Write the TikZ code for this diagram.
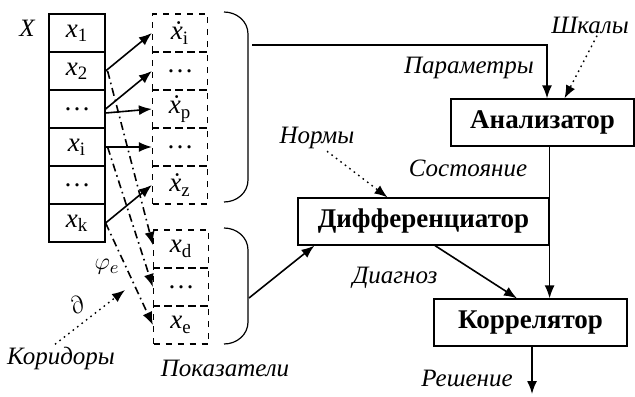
\documentclass[tikz,border=0pt]{standalone}
\usepackage{fontspec}
\setmainfont{Liberation Serif}
\usetikzlibrary{arrows.meta}
\newcommand{\xs}[1]{\textit{x}\textsubscript{#1}}
\newcommand{\xd}[1]{\textit{\.x}\textsubscript{#1}}

\begin{document}
\begin{tikzpicture}[x=0.5pt,y=-0.5pt,
    cell/.style={draw,semithick,minimum width=28pt,minimum height=19pt,inner sep=0pt,font=\fontsize{13.5}{15}\selectfont},
    dcell/.style={cell,dashed,minimum width=27.5pt},
    block/.style={draw,semithick,inner sep=0pt,minimum height=23.5pt,font=\fontsize{13.5}{16}\selectfont\bfseries},
    lbl/.style={inner sep=1pt,font=\fontsize{12.5}{15}\selectfont\itshape},
    arr/.style={-{Latex[length=6.5pt,width=5pt]},thick},
    chain/.style={arr,dash pattern=on 4pt off 2pt on 0.8pt off 2pt},
    hint/.style={arr,dotted,line width=0.7pt}]
  \useasboundingbox (0,0) rectangle (635,396);

  % source column X
  \node[lbl] (xl) at (27,28) {X};
  \node[cell] (x1) at (77,33) {\xs{1}};
  \node[cell] (x2) at (77,71) {\xs{2}};
  \node[cell] (x3) at (77,109) {\dots};
  \node[cell] (x4) at (77,147) {\xs{i}};
  \node[cell] (x5) at (77,185) {\dots};
  \node[cell] (x6) at (77,223) {\xs{k}};

  % parameters
  \node[dcell] (d1) at (180,33) {\xd{i}};
  \node[dcell] (d2) at (180,71) {\dots};
  \node[dcell] (d3) at (180,109) {\xd{p}};
  \node[dcell] (d4) at (180,147) {\dots};
  \node[dcell] (d5) at (180,185) {\xd{z}};

  % indicators
  \node[dcell] (e1) at (181,249) {\xs{d}};
  \node[dcell] (e2) at (181,287) {\dots};
  \node[dcell] (e3) at (181,325) {\xs{e}};

  \draw[arr] (x2.east) -- (d1.west);
  \draw[arr] (x3.east) -- (d2.west);
  \draw[arr] ([yshift=-2pt]x3.east) -- (d3.west);
  \draw[arr] (x4.east) -- (d4.west);
  \draw[arr] (x6.east) -- (d5.west);

  \draw[chain] ([xshift=1pt]x2.east) -- ([yshift=2pt]e1.west);
  \draw[chain] ([xshift=1pt]x4.east) -- (e2.west);
  \draw[chain] (x6.east) -- (e3.west);

  % brackets
  \draw[semithick] (224,12) to[out=0,in=90] (248,34) -- (248,180) to[out=-90,in=0] (224,202);
  \draw[semithick] (224,228) to[out=0,in=90] (248,250) -- (248,322) to[out=-90,in=0] (224,344);
  \coordinate (pout) at (252,45);
  \coordinate (iout) at (249,298);

  % blocks
  \node[block,minimum width=91.5pt] (an) at (542.5,122.5) {Анализатор};
  \node[block,minimum width=125.5pt] (df) at (423.5,221.5) {Дифференциатор};
  \node[block,minimum width=96.5pt] (co) at (530.5,322.5) {Коррелятор};

  \draw[arr] (pout) -| ([xshift=2.25pt]an.north);
  \draw[arr] (iout) -- ([xshift=8.5pt]df.south west);
  \draw[arr] (an.south -| df.east) -- (co.north -| df.east);
  \draw[arr] ([xshift=5.75pt]df.south) -- ([xshift=-6.75pt]co.north);
  \coordinate (rs) at (532,394);
  \draw[arr] (co.south -| rs) -- (rs);

  % labels
  \node[lbl] (par) at (469,68) {Параметры};
  \node[lbl] (shk) at (590,25) {Шкалы};
  \node[lbl] (nrm) at (317,138) {Нормы};
  \node[lbl] (sos) at (468,168) {Состояние};
  \node[lbl] (dia) at (395,278) {Диагноз};
  \node[lbl] (res) at (467,378) {Решение};
  \node[lbl] (kor) at (61,358) {Коридоры};
  \node[lbl] (pok) at (225,368) {Показатели};
  \node[lbl] (phi) at (107,267) {$\varphi_e$};
  \node[lbl,rotate=30] (dd) at (77,305) {$\partial$};
  \coordinate (kend) at (125,290);

  \draw[hint] ([xshift=3.5pt]shk.south) -- ([xshift=11pt]an.north);
  \draw[hint] ([xshift=5pt]nrm.south) -- ([xshift=-18pt]df.north);
  \draw[hint] ([xshift=-3pt]kor.north) -- (kend);
\end{tikzpicture}
\end{document}
